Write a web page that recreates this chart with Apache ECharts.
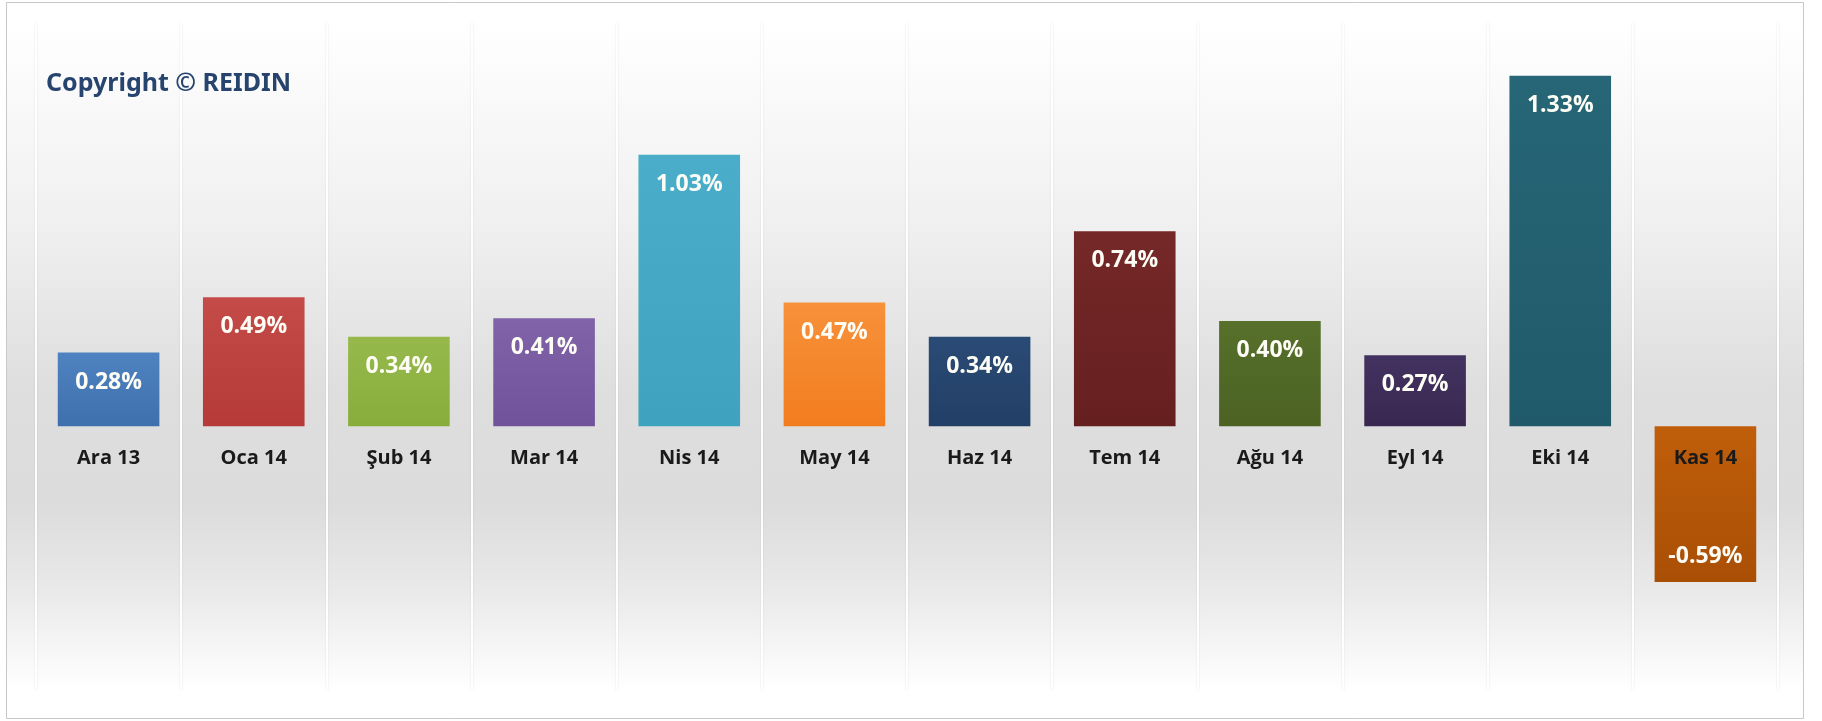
<!DOCTYPE html>
<html><head><meta charset="utf-8">
<script src="https://cdn.jsdelivr.net/npm/echarts@6/dist/echarts.min.js"></script>
<style>html,body{margin:0;padding:0;background:#fff}#c{width:1822px;height:721px}</style>
</head><body><div id="c"></div>
<script>
const categories = ['Ara 13','Oca 14','Şub 14','Mar 14','Nis 14','May 14','Haz 14','Tem 14','Ağu 14','Eyl 14','Eki 14','Kas 14'];
const values = [0.28, 0.49, 0.34, 0.41, 1.03, 0.47, 0.34, 0.74, 0.40, 0.27, 1.33, -0.59];
const colors = [
  ['#4f82c0','#3f70ae'], ['#c44b48','#b53a38'], ['#97b94c','#88ad3c'], ['#8063a8','#6f529a'],
  ['#4aaecb','#3fa3bf'], ['#f7913a','#f27d1f'], ['#2a4b76','#223f66'], ['#752828','#661f1f'],
  ['#57702b','#4b6223'], ['#433260','#382850'], ['#266677','#205a6a'], ['#c05e0a','#a94f05']
];
const font = '"Open Sans", "Liberation Sans", sans-serif';
const chart = echarts.init(document.getElementById('c'), null, {renderer:'canvas'});
chart.setOption({
  animation:false,
  backgroundColor:'#ffffff',
  graphic:[
    {type:'rect', z:-10, silent:true, shape:{x:6,y:23,width:1797,height:667},
     style:{fill:new echarts.graphic.LinearGradient(0,0,0,1,[
       {offset:0,color:'#ffffff'},{offset:0.08,color:'#fbfbfb'},{offset:0.3,color:'#f0f0f0'},
       {offset:0.55,color:'#dedede'},{offset:0.72,color:'#dcdcdc'},{offset:0.85,color:'#e9e9e9'},
       {offset:1,color:'#ffffff'}])}},
    {type:'rect', z:100, silent:true, shape:{x:6.5,y:2.5,width:1797,height:716},
     style:{fill:'none',stroke:'#c8c8c8',lineWidth:1}}
  ],
  title:{text:'Copyright © REIDIN', left:46, top:71, padding:0,
    textStyle:{fontFamily:'"Noto Sans", "Open Sans", sans-serif', fontWeight:'bold', fontSize:25, color:'#27446f'}},
  grid:[
    {left:36, right:44, top:23, bottom:31, containLabel:false, outerBoundsMode:'none'},
    {left:36, right:44, top:23, bottom:295, containLabel:false, outerBoundsMode:'none'}
  ],
  xAxis:[
    {type:'category', data:categories, gridIndex:0,
     axisLine:{show:false}, axisTick:{show:false}, axisLabel:{show:false},
     splitLine:{show:true, lineStyle:{color:'rgba(255,255,255,0.95)', width:2, shadowColor:'rgba(0,0,0,0.12)', shadowBlur:2}}},
    {type:'category', data:categories, gridIndex:1, z:10,
     axisLine:{show:false}, axisTick:{show:false}, splitLine:{show:false},
     axisLabel:{margin:22, color:'#1a1a1a', fontFamily:font, fontWeight:'bold', fontSize:20, verticalAlign:'top'}}
  ],
  yAxis:[
    {type:'value', min:-1, max:1.53, show:false, gridIndex:0, splitLine:{show:false}},
    {type:'value', min:0, max:1, show:false, gridIndex:1, splitLine:{show:false}}
  ],
  series:[{type:'bar', barWidth:'70%', xAxisIndex:0, yAxisIndex:0,
    data: values.map((v,i)=>({value:v,
      itemStyle:{color:new echarts.graphic.LinearGradient(0,0,0,1,[{offset:0,color:colors[i][0]},{offset:1,color:colors[i][1]}])},
      label: v<0 ? {position:'insideBottom', distance:14} : {position:'insideTop', distance:18}
    })),
    label:{show:true, color:'#fdfdf5', fontFamily:font, fontWeight:'bold', fontSize:23,
      formatter:p=>p.value.toFixed(2)+'%'}
  }]
});
</script></body></html>
